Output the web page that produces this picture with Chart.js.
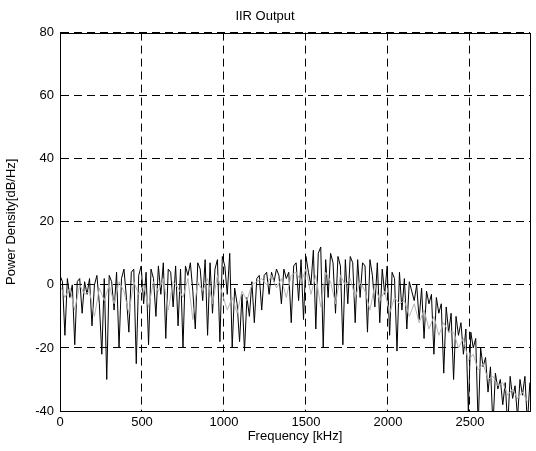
<!DOCTYPE html>
<html>
<head>
<meta charset="utf-8">
<title>IIR Output</title>
<script src="https://cdn.jsdelivr.net/npm/chart.js@4/dist/chart.umd.min.js"></script>
<style>
  html, body { margin: 0; padding: 0; background: #fff; }
  canvas { display: block; }
</style>
</head>
<body>
<canvas id="psd" width="536" height="451"></canvas>
<script>
// frequency bins are evenly spaced (kHz)
const binKHz = 15;
const grayBinKHz = 30;
const freqMax = 2866;

const xTicks = [0, 500, 1000, 1500, 2000, 2500];
const yTicks = [-40, -20, 0, 20, 40, 60, 80];

// black trace, dB/Hz, one value per 15 kHz bin
const outputDb = [
    3, 1, -16, 2, -4, 0, -19, 1, 2, -9,
    1, -3, 2, -13, 0, 3, -6, -22, 2, -30,
    3, 1, -8, 4, -20, 2, 5, -4, -15, 4,
    5, -25, 3, 6, -6, 4, -19, 5, 2, -10,
    6, -3, 7, -17, 5, 4, -7, 6, -13, 5,
    -20, 6, 3, 7, -2, -14, 7, 5, -5, 8,
    -16, 7, -9, 5, 8, -18, 9, 6, -3, 10,
    -20, -1, -6, -18, -3, -21, -4, -10, 1, -12,
    2, 3, -8, 3, 4, -3, 4, 1, 5, 3,
    -6, 5, 2, 4, -12, 6, 7, -5, 8, -11,
    9, 4, 0, 11, -14, 10, 12, -20, 8, -4,
    10, 7, -9, 9, 6, -19, 8, -6, 9, 7,
    -12, 8, -4, 7, 6, -15, 8, 3, -7, 7,
    -12, 5, -3, 6, -16, 4, 2, -21, 4, -8,
    2, -14, 1, -2, -5, 0, -11, -1, -17, -2,
    -6, -3, -22, -4, -9, -6, -28, -7, -15, -9,
    -30, -10, -16, -12, -22, -14, -40, -15, -20, -17,
    -45, -20, -26, -23, -34, -26, -45, -28, -33, -30,
    -38, -31, -45, -29, -36, -32, -42, -30, -35, -29,
    -44, -31
];

// gray trace, dB/Hz, one value per 30 kHz bin
const smoothDb = [
    0, -4, -1, -8, 0, -3, -2, -10, -1, -5,
    0, -6, 1, -2, -9, 1, -3, 0, -7, 1,
    -2, 2, -8, 1, -1, -4, 2, -11, 1, -2,
    2, -6, 3, -3, -8, -4, -9, -2, -5, 0,
    1, 2, 0, 3, -1, 2, -4, 3, 4, 1,
    5, -3, 3, -7, 4, 1, -6, 3, 0, 2,
    -4, 1, -2, -8, 0, -5, -2, -9, -4, -6,
    -5, -10, -6, -12, -8, -14, -10, -16, -12, -15,
    -15, -20, -17, -24, -22, -27, -25, -30, -29, -32,
    -31, -35, -33, -36, -34, -37
];

const font = { family: '"Liberation Sans", Arial, sans-serif', size: 13 };

// full box round the axes, like the original plot
const frameBox = {
    id: 'frameBox',
    afterDraw(chart) {
        const { ctx, chartArea: a } = chart;
        ctx.save();
        ctx.strokeStyle = '#000';
        ctx.lineWidth = 1;
        ctx.strokeRect(Math.round(a.left) + 0.5, Math.round(a.top) + 0.5,
            Math.round(a.right - a.left), Math.round(a.bottom - a.top));
        ctx.restore();
    }
};

const gridStyle = { color: '#000', lineWidth: 1, drawTicks: false };
const dashed = { display: true, color: '#000', dash: [8, 5] };

new Chart(document.getElementById('psd'), {
    type: 'line',
    data: {
        datasets: [{
            label: 'smoothed',
            data: smoothDb.map((v, i) => ({ x: i * grayBinKHz, y: v })),
            borderColor: '#b4b4b4',
            borderWidth: 1,
            pointRadius: 0,
            tension: 0,
            order: 0
        }, {
            label: 'output',
            data: outputDb.map((v, i) => ({ x: i * binKHz, y: v })),
            borderColor: '#000',
            borderWidth: 1,
            pointRadius: 0,
            tension: 0,
            order: 1
        }]
    },
    options: {
        responsive: false,
        animation: false,
        devicePixelRatio: 1,
        layout: { padding: { left: 0, right: 6, top: 0, bottom: 0 } },
        plugins: {
            legend: { display: false },
            tooltip: { enabled: false },
            title: {
                display: true,
                text: 'IIR Output',
                color: '#000',
                font: { ...font, weight: 'normal' },
                padding: { top: 9, bottom: 8 }
            }
        },
        scales: {
            x: {
                type: 'linear',
                min: 0,
                max: freqMax,
                afterBuildTicks: s => { s.ticks = xTicks.map(v => ({ value: v })); },
                afterFit: s => { s.height = 40; },
                grid: gridStyle,
                border: dashed,
                ticks: { color: '#000', font, padding: 4, maxRotation: 0, callback: v => String(v) },
                title: {
                    display: true,
                    text: 'Frequency [kHz]',
                    color: '#000',
                    font,
                    padding: { top: 0, bottom: 7 }
                }
            },
            y: {
                min: -40,
                max: 80,
                afterBuildTicks: s => { s.ticks = yTicks.map(v => ({ value: v })); },
                afterFit: s => { s.width = 60; },
                grid: gridStyle,
                border: dashed,
                ticks: { color: '#000', font, padding: 6, callback: v => String(v) },
                title: {
                    display: true,
                    text: 'Power Density[dB/Hz]',
                    color: '#000',
                    font,
                    padding: { top: 4, bottom: 0 }
                }
            }
        }
    },
    plugins: [frameBox]
});
</script>
</body>
</html>
